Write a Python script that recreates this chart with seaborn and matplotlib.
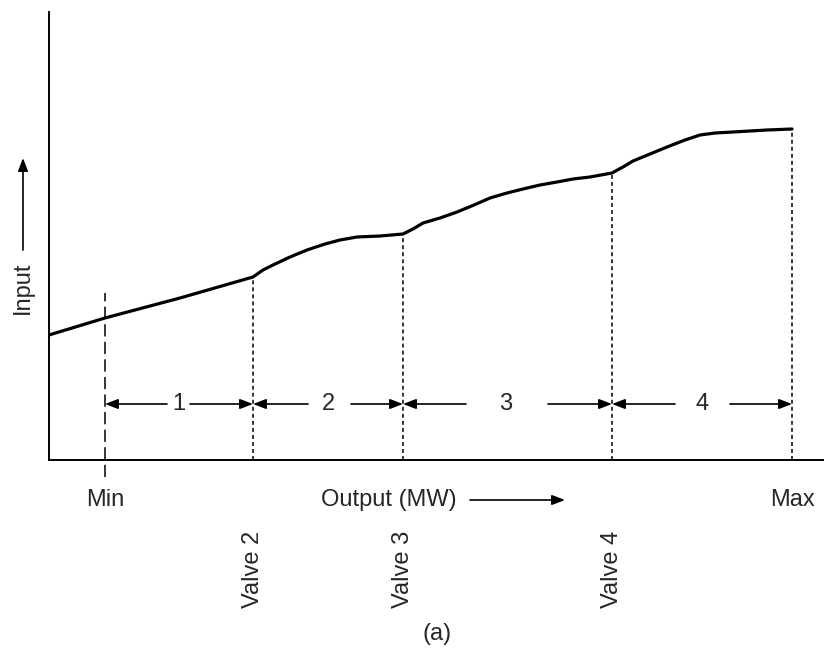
import numpy as np
import pandas as pd
import matplotlib
matplotlib.use('Agg')
import matplotlib.pyplot as plt
import seaborn as sns

# input-output curve (arbitrary units)
output = [0, 56, 131, 204, 214, 224, 241, 258, 276, 291, 308, 331, 354, 364,
          374, 391, 408, 425, 441, 458, 474, 491, 508, 524, 541, 563, 574,
          584, 601, 618, 636, 651, 666, 684, 701, 718, 743]
inp = [125, 142, 162, 183, 190, 195, 203, 210, 216, 220, 223, 224, 226, 231,
       237, 242, 248, 255, 262, 267, 271, 275, 278, 281, 283, 287, 293,
       299, 306, 313, 320, 325, 327, 328, 329, 330, 331]

min_out = 56
valve_out = [204, 354, 563, 743]          # valve 2, valve 3, valve 4, max
valve_labels = ['Valve 2', 'Valve 3', 'Valve 4']
seg_labels = ['1', '2', '3', '4']
seg_text_x = [130, 279, 457, 653]
seg_left_end = [118, 259, 417, 626]
seg_right_start = [141, 302, 499, 681]

sns.set_style('white')
plt.rcParams['font.family'] = ['Liberation Sans', 'DejaVu Sans']
FS = 17

df = pd.DataFrame({'output': output, 'input': inp})

fig = plt.figure(figsize=(8.24, 6.53), dpi=100)
ax = fig.add_axes([49 / 824, 193 / 653, 775 / 824, 448 / 653])

sns.lineplot(data=df, x='output', y='input', ax=ax, color='black', lw=2.3,
             estimator=None, sort=False, solid_joinstyle='round')

ax.set_xlim(0, 775)
ax.set_ylim(0, 448)
ax.set_xticks([])
ax.set_yticks([])
ax.set_xlabel('')
ax.set_ylabel('')
for s in ['top', 'right']:
    ax.spines[s].set_visible(False)
for s in ['left', 'bottom']:
    ax.spines[s].set_color('black')
    ax.spines[s].set_linewidth(1.4)

# vertical marker lines
min_top = np.interp(min_out, output, inp)
ax.plot([min_out, min_out], [-17, min_top + 25], color='black', lw=1.1,
        dashes=(8, 3.5), clip_on=False)
tops = np.interp(valve_out, output, inp)
for xv, top in zip(valve_out, tops):
    ax.plot([xv, xv], [0, top], color='black', lw=1.1, dashes=(2.6, 2))

# segment arrows
bounds = [min_out] + valve_out
arr = dict(arrowstyle='-|>,head_length=0.65,head_width=0.25', color='black',
           lw=1.2, shrinkA=0, shrinkB=0, mutation_scale=12)
y_seg = 56
for i, lab in enumerate(seg_labels):
    ax.text(seg_text_x[i], y_seg, lab, ha='center', va='center', fontsize=FS)
    ax.annotate('', xy=(bounds[i], y_seg), xytext=(seg_left_end[i], y_seg),
                arrowprops=arr)
    ax.annotate('', xy=(bounds[i + 1], y_seg), xytext=(seg_right_start[i], y_seg),
                arrowprops=arr)

# labels under the axis
ax.text(min_out, -40, 'Min', ha='center', va='center', fontsize=FS)
ax.text(valve_out[-1], -40, 'Max', ha='center', va='center', fontsize=FS)
ax.text(340, -40, 'Output (MW)', ha='center', va='center', fontsize=FS)
ax.annotate('', xy=(516, -40), xytext=(421, -40), arrowprops=arr,
            annotation_clip=False)
for xv, lab in zip(valve_out[:3], valve_labels):
    ax.text(xv, -109, lab, ha='center', va='center', rotation=90, fontsize=FS)
ax.text(388, -174, '(a)', ha='center', va='center', fontsize=FS)

# y label
ax.text(-26, 172, 'Input', ha='center', va='center', rotation=90, fontsize=FS)
ax.annotate('', xy=(-26, 302), xytext=(-26, 210), arrowprops=arr,
            annotation_clip=False)

fig.savefig('out.png', dpi=100)
